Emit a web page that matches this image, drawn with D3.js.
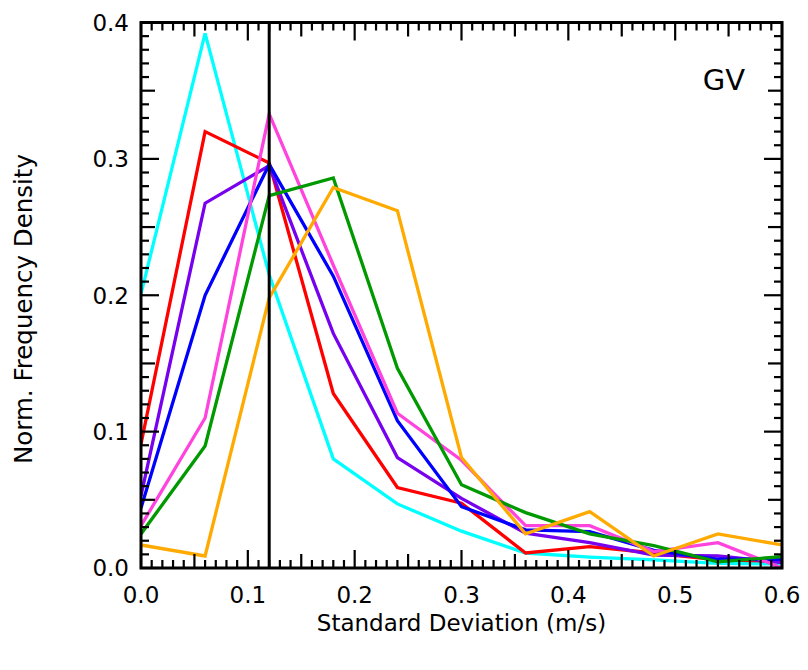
<!DOCTYPE html>
<html>
<head>
<meta charset="utf-8">
<script src="https://cdn.jsdelivr.net/npm/d3@7"></script>
<style>
  html, body { margin: 0; padding: 0; background: #fff; }
  svg { display: block; font-family: "DejaVu Sans", Verdana, sans-serif; }
</style>
</head>
<body>
<svg id="chart" width="808" height="670"></svg>
<script>
// ---- data ----
const xValues = [0, 0.06, 0.12, 0.18, 0.24, 0.30, 0.36, 0.42, 0.48, 0.54, 0.60];
const cyanSeries   = [0.201, 0.392, 0.215, 0.080, 0.047, 0.027, 0.011, 0.008, 0.006, 0.0034, 0.003];
const redSeries    = [0.091, 0.320, 0.297, 0.128, 0.059, 0.0475, 0.011, 0.0156, 0.011, 0.006, 0.005];
const purpleSeries = [0.053, 0.2675, 0.295, 0.172, 0.081, 0.051, 0.0255, 0.0186, 0.0095, 0.0088, 0.004];
const blueSeries   = [0.044, 0.200, 0.296, 0.214, 0.108, 0.045, 0.028, 0.0266, 0.013, 0.0064, 0.0064];
const pinkSeries   = [0.031, 0.110, 0.333, 0.222, 0.1135, 0.079, 0.031, 0.031, 0.012, 0.0186, 0.0];
const greenSeries  = [0.025, 0.0895, 0.273, 0.286, 0.1465, 0.061, 0.0406, 0.025, 0.0164, 0.0046, 0.0083];
const orangeSeries = [0.0169, 0.0088, 0.198, 0.279, 0.262, 0.081, 0.025, 0.0413, 0.0088, 0.025, 0.0169];
const seriesColors = ["#00ffff", "#ff0000", "#7700ee", "#0000ff", "#ff44dd", "#009900", "#ffaa00"];
const xTickLabels = [0, 0.1, 0.2, 0.3, 0.4, 0.5, 0.6];
const yTickLabels = [0, 0.1, 0.2, 0.3, 0.4];
const referenceX = 0.12;
const panelLabel = "GV";
const xTitle = "Standard Deviation (m/s)";
const yTitle = "Norm. Frequency Density";

// ---- layout ----
const svg = d3.select("#chart");
const L = 141, R = 782, T = 22.5, B = 568;
const x = d3.scaleLinear().domain([0, 0.6]).range([L, R]);
const y = d3.scaleLinear().domain([0, 0.4]).range([B, T]);

const allSeries = [cyanSeries, redSeries, purpleSeries, blueSeries, pinkSeries, greenSeries, orangeSeries];

svg.append("defs").append("clipPath").attr("id", "clip")
  .append("rect").attr("x", L).attr("y", T).attr("width", R - L).attr("height", B - T);

const line = d3.line().x((d, i) => x(xValues[i])).y(d => y(d));
const plot = svg.append("g").attr("clip-path", "url(#clip)");
allSeries.forEach((s, k) => {
  plot.append("path").datum(s)
    .attr("d", line)
    .attr("fill", "none")
    .attr("stroke", seriesColors[k])
    .attr("stroke-width", 3.3)
    .attr("stroke-linejoin", "miter");
});

// reference vertical line
svg.append("line")
  .attr("x1", x(referenceX)).attr("x2", x(referenceX))
  .attr("y1", y(0)).attr("y2", y(0.4))
  .attr("stroke", "#000").attr("stroke-width", 3);

// ticks
const xMinor = d3.range(0, 61).map(i => i / 100);
const yMinor = d3.range(0, 41).map(i => i / 100);
function tickLen(i) { return i % 10 === 0 ? 18 : (i % 5 === 0 ? 14 : 8); }
const tg = svg.append("g").attr("stroke", "#000").attr("stroke-width", 2.2);
xMinor.forEach((v, i) => {
  const len = tickLen(i);
  tg.append("line").attr("x1", x(v)).attr("x2", x(v)).attr("y1", B).attr("y2", B - len);
  tg.append("line").attr("x1", x(v)).attr("x2", x(v)).attr("y1", T).attr("y2", T + len);
});
yMinor.forEach((v, i) => {
  const len = tickLen(i);
  tg.append("line").attr("y1", y(v)).attr("y2", y(v)).attr("x1", L).attr("x2", L + len);
  tg.append("line").attr("y1", y(v)).attr("y2", y(v)).attr("x1", R).attr("x2", R - len);
});

// frame
svg.append("rect").attr("x", L).attr("y", T).attr("width", R - L).attr("height", B - T)
  .attr("fill", "none").attr("stroke", "#000").attr("stroke-width", 3);

// tick labels
svg.append("g").selectAll("text").data(xTickLabels).join("text")
  .attr("x", d => x(d)).attr("y", 603)
  .attr("text-anchor", "middle").attr("font-size", 23).attr("fill", "#000")
  .text(d => d3.format(".1f")(d));
svg.append("g").selectAll("text").data(yTickLabels).join("text")
  .attr("x", 129).attr("y", d => y(d)).attr("dy", "0.36em")
  .attr("text-anchor", "end").attr("font-size", 23).attr("fill", "#000")
  .text(d => d3.format(".1f")(d));

// titles
svg.append("text").attr("x", (L + R) / 2).attr("y", 631)
  .attr("text-anchor", "middle").attr("font-size", 23).text(xTitle);
svg.append("text").attr("transform", "translate(32,309) rotate(-90)")
  .attr("text-anchor", "middle").attr("font-size", 24.5).text(yTitle);

svg.append("text").attr("x", 745).attr("y", 90)
  .attr("text-anchor", "end").attr("font-size", 29).text(panelLabel);
</script>
</body>
</html>
